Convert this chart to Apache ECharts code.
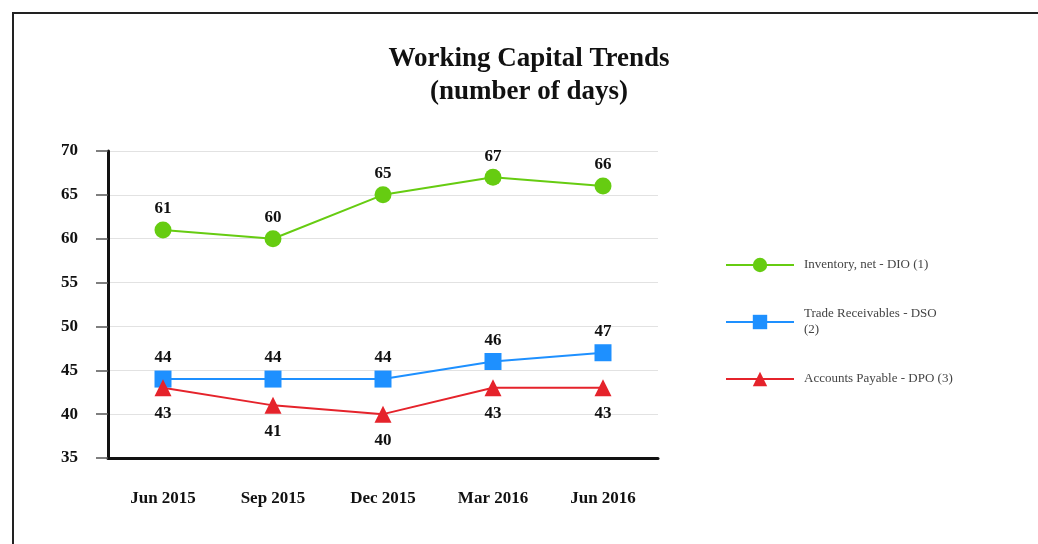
<!DOCTYPE html>
<html>
<head>
<meta charset="utf-8">
<script src="https://cdn.jsdelivr.net/npm/echarts@6/dist/echarts.min.js"></script>
<style>
  html, body { margin: 0; padding: 0; background: #fff; }
  #frame { position: absolute; left: 12px; top: 12px; width: 1026px; height: 532px;
           border-left: 2px solid #222; border-top: 2px solid #222; box-sizing: border-box; }
  #chart { position: absolute; left: 0; top: 0; width: 1038px; height: 544px; }
</style>
</head>
<body>
<div id="frame"></div>
<div id="chart"></div>
<script>
var quarters = ['Jun 2015', 'Sep 2015', 'Dec 2015', 'Mar 2016', 'Jun 2016'];
var dio = [61, 60, 65, 67, 66];//Inventory
var dso = [44, 44, 44, 46, 47];//Receivables
var dpo = [43, 41, 40, 43, 43];//Payables

var serif = 'Liberation Serif';
var chart = echarts.init(document.getElementById('chart'));

function lineSeries(name, data, color, symbol, size, pos, dist) {
    return {
        name: name,
        type: 'line',
        data: data,
        symbol: symbol,
        symbolSize: size,
        lineStyle: { color: color, width: 2 },
        itemStyle: { color: color },
        label: {
            show: true,
            position: pos,
            distance: dist,
            fontFamily: serif,
            fontWeight: 'bold',
            fontSize: 17,
            color: '#111'
        }
    };
}

var option = {
    backgroundColor: 'transparent',
    animation: false,
    title: {
        text: 'Working Capital Trends\n(number of days)',
        left: 524,
        top: 38,
        textAlign: 'center',
        textStyle: {
            fontFamily: serif,
            fontWeight: 'bold',
            fontSize: 27,
            lineHeight: 33,
            color: '#111'
        }
    },
    legend: {
        orient: 'vertical',
        left: 720,
        top: 252,
        itemWidth: 68,
        itemHeight: 18,
        itemGap: 33,
        formatter: function(name) {
            if (name == 'Trade Receivables - DSO (2)') return 'Trade Receivables - DSO\n(2)';
            return name;
        },
        textStyle: {
            fontFamily: serif,
            fontSize: 13,
            lineHeight: 16,
            color: '#444',
            padding: [0, 0, 0, 5]
        }
    },
    grid: { left: 108, right: 380, top: 151, bottom: 86 },
    xAxis: {
        type: 'category',
        data: quarters,
        axisLine: { lineStyle: { color: '#111', width: 3 } },
        axisTick: { alignWithLabel: true, length: 12, lineStyle: { color: '#555', width: 1.5 } },
        axisLabel: {
            margin: 32,
            fontFamily: serif,
            fontWeight: 'bold',
            fontSize: 17,
            color: '#111'
        }
    },
    yAxis: {
        type: 'value',
        min: 35,
        max: 70,
        interval: 5,
        axisLine: { show: true, lineStyle: { color: '#111', width: 3 } },
        axisTick: { show: true, length: 12, lineStyle: { color: '#555', width: 1.5 } },
        splitLine: { lineStyle: { color: '#e2e2e2', width: 1 } },
        axisLabel: {
            margin: 30,
            fontFamily: serif,
            fontWeight: 'bold',
            fontSize: 17,
            color: '#111'
        }
    },
    series: [
        lineSeries('Inventory, net - DIO (1)', dio, '#66CC11', 'circle', 17, 'top', 4),
        lineSeries('Trade Receivables - DSO (2)', dso, '#1E90FF', 'rect', 17, 'top', 4),
        lineSeries('Accounts Payable - DPO (3)', dpo, '#E5232B', 'triangle', 17, 'bottom', 9)
    ]
};
chart.setOption(option);
</script>
</body>
</html>
